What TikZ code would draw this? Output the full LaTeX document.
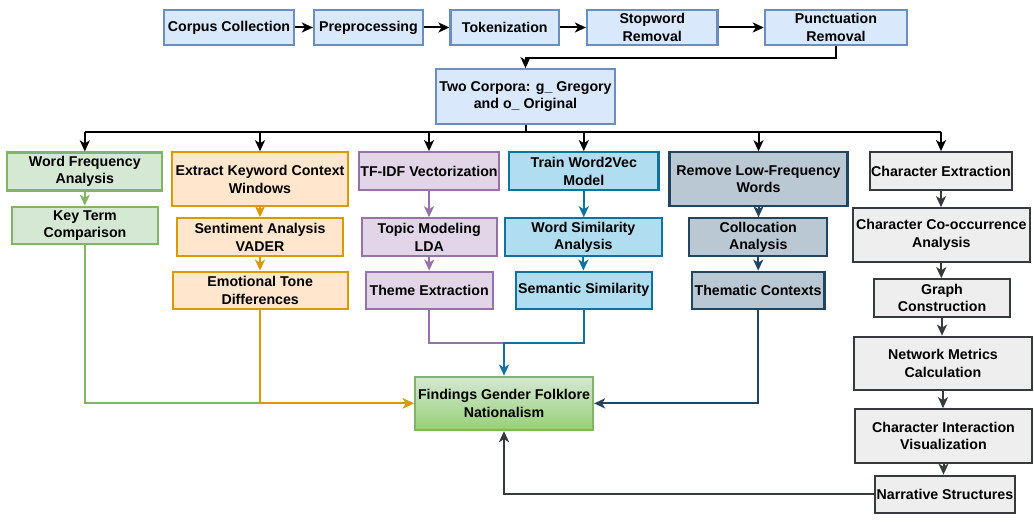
\documentclass[tikz,border=0pt]{standalone}
\usepackage{fontspec}
\setmainfont{Liberation Sans}
\usetikzlibrary{arrows.meta,calc}
\definecolor{bfill}{HTML}{DAE8FC}\definecolor{bline}{HTML}{6C8EBF}
\definecolor{gfill}{HTML}{D5E8D4}\definecolor{gline}{HTML}{82B366}
\definecolor{ofill}{HTML}{FFE6CC}\definecolor{oline}{HTML}{D79B00}
\definecolor{pfill}{HTML}{E1D5E7}\definecolor{pline}{HTML}{9673A6}
\definecolor{cfill}{HTML}{B1DDF0}\definecolor{cline}{HTML}{10739E}
\definecolor{sfill}{HTML}{BAC8D3}\definecolor{sline}{HTML}{23445D}
\definecolor{kfill}{HTML}{EEEEEE}\definecolor{kline}{HTML}{36393D}
\definecolor{fbot}{HTML}{97D077}
\tikzset{
  box/.style={draw, line width=2.2pt, align=center, inner sep=1pt,
    font=\fontsize{14.2}{17.5}\selectfont\bfseries},
  bluebox/.style={box, fill=bfill, draw=bline},
  greenbox/.style={box, fill=gfill, draw=gline},
  orangebox/.style={box, fill=ofill, draw=oline},
  purplebox/.style={box, fill=pfill, draw=pline},
  cyanbox/.style={box, fill=cfill, draw=cline},
  slatebox/.style={box, fill=sfill, draw=sline},
  greybox/.style={box, fill=kfill, draw=kline},
  findbox/.style={box, top color=gfill, bottom color=fbot, draw=gline},
  conn/.style={line width=2pt, -{Stealth[length=11pt,width=10pt,inset=3pt]}},
  line/.style={line width=2pt},
}
\newcommand{\bx}[6]{\node[#1, minimum width=#4pt, minimum height=#5pt] (#2) at (#3) {#6};}
\begin{document}
\begin{tikzpicture}[x=1pt,y=-1pt]
\useasboundingbox (0,0) rectangle (1034,524);
% top row
\bx{bluebox}{cc}{229,27.5}{130}{35}{Corpus Collection}
\bx{bluebox}{pre}{368.5,27.5}{109}{35}{Preprocessing}
\bx{bluebox}{tok}{504.75,27.5}{108.5}{35}{Tokenization}
\bx{bluebox}{stop}{652.25,27.5}{130.5}{35}{Stopword\\Removal}
\bx{bluebox}{punc}{836,27.5}{142.3}{35}{Punctuation\\Removal}
\bx{bluebox}{two}{525.5,96.6}{178.6}{54.7}{Two Corpora: g\_ Gregory\\and o\_ Original}
% row 1
\bx{greenbox}{wf}{84.8,171.5}{155}{38}{Word Frequency\\Analysis}
\bx{orangebox}{ek}{260,179.2}{176.6}{53.7}{Extract Keyword Context\\Windows}
\bx{purplebox}{tf}{429,171.2}{140.6}{38}{TF-IDF Vectorization}
\bx{cyanbox}{w2v}{583.8,171.2}{149.3}{38}{Train Word2Vec\\Model}
\bx{slatebox}{rl}{758.5,179.2}{178}{53.7}{Remove Low-Frequency\\Words}
\bx{greybox}{ce}{941,171.2}{142}{38}{Character Extraction}
% row 2
\bx{greenbox}{kt}{85,225.4}{146}{37.3}{Key Term\\Comparison}
\bx{orangebox}{sa}{260,237.2}{166.6}{37.7}{Sentiment Analysis\\VADER}
\bx{purplebox}{tm}{429.2,237.2}{135}{37.7}{Topic Modeling\\LDA}
\bx{cyanbox}{ws}{583.4,237.2}{156.7}{37.7}{Word Similarity\\Analysis}
\bx{slatebox}{col}{758.2,237.2}{137.7}{37.7}{Collocation\\Analysis}
\bx{greybox}{co}{941.3,235}{177.3}{53.4}{Character Co-occurrence\\Analysis}
% row 3
\bx{orangebox}{et}{260.2,290.2}{175}{37}{Emotional Tone\\Differences}
\bx{purplebox}{te}{429.2,290.2}{127}{37}{Theme Extraction}
\bx{cyanbox}{ss}{583.7,290.2}{136}{37}{Semantic Similarity}
\bx{slatebox}{tc}{758.1,290.2}{132.8}{37}{Thematic Contexts}
\bx{greybox}{gc}{942,298}{136}{37.4}{Graph\\Construction}
% right column
\bx{greybox}{nm}{943,363.4}{178}{53.3}{Network Metrics\\Calculation}
\bx{greybox}{ci}{943.5,436}{177}{53.4}{Character Interaction\\Visualization}
\bx{greybox}{ns}{945,494.2}{140}{37}{Narrative Structures}
% findings
\bx{findbox}{fi}{504,403.4}{178}{53.3}{Findings Gender Folklore\\Nationalism}
% top row connectors
\draw[conn] (cc) -- (pre);
\draw[conn] (pre) -- (tok);
\draw[conn] (tok) -- (stop);
\draw[conn] (stop) -- (punc);
\draw[conn] (punc.south) -- ++(0,12) -| (two.north);
% bus
\coordinate (bus) at (525.5,132.3);
\draw[line] (two.south) -- (bus);
\draw[line] (wf.north |- bus) -- (ce.north |- bus);
\foreach \n in {wf,ek,tf,w2v,rl,ce}{\draw[conn] (\n.north |- bus) -- (\n.north);}
% column chains
\draw[conn,gline] (wf.south) -- (wf.south |- kt.north);
\draw[conn,oline] (ek.south) -- (ek.south |- sa.north);
\draw[conn,oline] (sa.south) -- (sa.south |- et.north);
\draw[conn,pline] (tf.south) -- (tf.south |- tm.north);
\draw[conn,pline] (tm.south) -- (tm.south |- te.north);
\draw[conn,cline] (w2v.south) -- (w2v.south |- ws.north);
\draw[conn,cline] (ws.south) -- (ws.south |- ss.north);
\draw[conn,sline] (rl.south) -- (rl.south |- col.north);
\draw[conn,sline] (col.south) -- (col.south |- tc.north);
\draw[conn,kline] (ce.south) -- (ce.south |- co.north);
\draw[conn,kline] (co.south) -- (co.south |- gc.north);
\draw[conn,kline] (gc.south) -- (gc.south |- nm.north);
\draw[conn,kline] (nm.south) -- (nm.south |- ci.north);
\draw[conn,kline] (ci.south) -- (ci.south |- ns.north);
% to findings
\coordinate (jp) at (504,342.5);
\draw[conn,gline] (kt.south) |- (fi.west);
\draw[conn,oline] (et.south) |- (fi.west);
\draw[line,pline] (te.south) |- (jp);
\draw[conn,cline] (ss.south) |- (jp) -- (fi.north);
\draw[conn,sline] (tc.south) |- (fi.east);
\draw[conn,kline] (ns.west) -| (fi.south);
\end{tikzpicture}
\end{document}
